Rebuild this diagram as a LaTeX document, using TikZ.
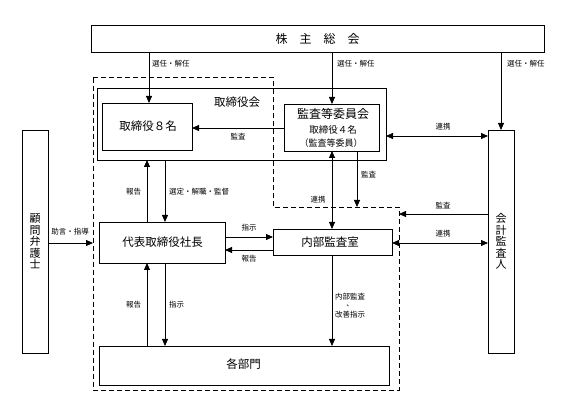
\documentclass[tikz,border=0pt]{standalone}
\usepackage{fontspec}
\setmainfont{Noto Sans CJK JP}
\usetikzlibrary{arrows.meta}
\tikzset{
  box/.style={draw, line width=0.8pt, inner sep=0pt, outer sep=0pt},
  maintxt/.style={inner sep=0pt, font=\fontsize{11.5}{12}\selectfont},
  lbl/.style={inner sep=0pt, font=\fontsize{7.5}{8}\selectfont},
  arr/.style={line width=0.8pt, -{Triangle[length=7pt,width=6pt]}},
  darr/.style={line width=0.8pt, {Triangle[length=7pt,width=6pt]}-{Triangle[length=7pt,width=6pt]}},
  dashline/.style={line width=0.8pt, dash pattern=on 5pt off 3pt}
}
\begin{document}
\begin{tikzpicture}[x=1pt,y=-1pt]
\fill[white] (0,0) rectangle (570,411);
\useasboundingbox (0,0) rectangle (570,411);

% executive region (dashed)
\draw[dashline] (93,77) -- (273,77) -- (273,207) -- (399,207) -- (399,390) -- (93,390) -- cycle;

% boxes
\node[box, minimum width=453pt, minimum height=27pt] (kabu) at (317.5,38.5) {};
\node[maintxt, font=\fontsize{12}{12}\selectfont] (kabuT) at (317.5,39) {株　主　総　会};
\node[box, minimum width=289pt, minimum height=72pt] (torikai) at (241.5,124) {};
\node[maintxt] (torikaiT) at (237,102) {取締役会};
\node[box, fill=white, minimum width=90pt, minimum height=47pt] (tori8) at (147,126.5) {};
\node[maintxt] (tori8T) at (148,126) {取締役８名};
\node[box, fill=white, minimum width=95pt, minimum height=47pt] (kansa) at (331.5,127.5) {};
\node[maintxt, font=\fontsize{12}{12}\selectfont] (kansaT1) at (333,114) {監査等委員会};
\node[inner sep=0pt, font=\fontsize{9.5}{10}\selectfont] (kansaT2) at (333,130) {取締役４名};
\node[inner sep=0pt, font=\fontsize{9}{10}\selectfont] (kansaT3) at (331,143) {（監査等委員）};
\node[box, minimum width=126pt, minimum height=41pt] (daihyo) at (162,242.5) {};
\node[maintxt] (daihyoT) at (162.5,242) {代表取締役社長};
\node[box, minimum width=119pt, minimum height=26pt] (naibu) at (332.5,242) {};
\node[maintxt] (naibuT) at (330,242) {内部監査室};
\node[box, minimum width=290pt, minimum height=39pt] (kakubu) at (244,365.5) {};
\node[maintxt] (kakubuT) at (243.5,364) {各部門};
\node[box, minimum width=26pt, minimum height=223pt] (komon) at (35,241.5) {};
\node[maintxt, align=center, font=\fontsize{11}{11.4}\selectfont] (komonT) at (35,241.5) {顧\\問\\弁\\護\\士};
\node[box, minimum width=26pt, minimum height=223pt] (kaikei) at (501,241.5) {};
\node[maintxt, align=center, font=\fontsize{11}{11.4}\selectfont] (kaikeiT) at (501,241.5) {会\\計\\監\\査\\人};

% helper coordinates
\coordinate (c149) at (149,0);
\coordinate (c332) at (332,0);
\coordinate (c147) at (147,0);
\coordinate (c165) at (165,0);
\coordinate (c128) at (0,128);
\coordinate (c136) at (0,136);
\coordinate (c243) at (0,243);
\coordinate (c237) at (0,237);
\coordinate (c250) at (0,250);
\coordinate (dA) at (357,207);
\coordinate (dB) at (399,214);
\coordinate (dC) at (93,243);

% connectors
\draw[arr] (kabu.south -| c149) -- (tori8.north -| c149);
\draw[arr] (kabu.south -| c332) -- (kansa.north -| c332);
\draw[arr] (kabu.south -| kaikei.north) -- (kaikei.north);
\draw[arr] (kansa.west |- c128) -- (tori8.east |- c128);
\draw[darr] (torikai.east |- c136) -- (kaikei.west |- c136);
\draw[arr] (kansa.south -| dA) -- (dA);
\draw[darr] (kansa.south -| c332) -- (naibu.north -| c332);
\draw[arr] (kaikei.west |- dB) -- (dB);
\draw[darr] (naibu.east |- c243) -- (kaikei.west |- c243);
\draw[arr] (daihyo.east |- c237) -- (naibu.west |- c237);
\draw[arr] (naibu.west |- c250) -- (daihyo.east |- c250);
\draw[arr] (daihyo.north -| c147) -- (torikai.south -| c147);
\draw[arr] (torikai.south -| c165) -- (daihyo.north -| c165);
\draw[arr] (kakubu.north -| c147) -- (daihyo.south -| c147);
\draw[arr] (daihyo.south -| c165) -- (kakubu.north -| c165);
\draw[arr] (naibu.south -| c332) -- (kakubu.north -| c332);
\draw[arr] (komon.east |- dC) -- (dC);

% labels
\node[lbl, anchor=west] (l1) at (152,64) {選任・解任};
\node[lbl, anchor=west] (l2) at (337,64) {選任・解任};
\node[lbl, anchor=west] (l3) at (507,64) {選任・解任};
\node[lbl] (l4) at (238,137) {監査};
\node[lbl] (l5) at (443,127) {連携};
\node[lbl, anchor=west] (l6) at (361,175) {監査};
\node[lbl] (l7) at (318,200) {連携};
\node[lbl] (l8) at (443,206) {監査};
\node[lbl] (l9) at (443,234) {連携};
\node[lbl] (l10) at (249,228) {指示};
\node[lbl] (l11) at (249,259) {報告};
\node[lbl] (l12) at (133.5,192) {報告};
\node[lbl, anchor=west] (l13) at (169,192) {選定・解職・監督};
\node[lbl] (l14) at (133.5,305) {報告};
\node[lbl, anchor=west] (l15) at (169,305) {指示};
\node[lbl, anchor=west] (l16) at (335,297) {内部監査};
\node[lbl] (l16b) at (350,306) {、};
\node[lbl, anchor=west] (l16c) at (335,315) {改善指示};
\node[lbl] (l17) at (70,232) {助言・指導};
\end{tikzpicture}
\end{document}
